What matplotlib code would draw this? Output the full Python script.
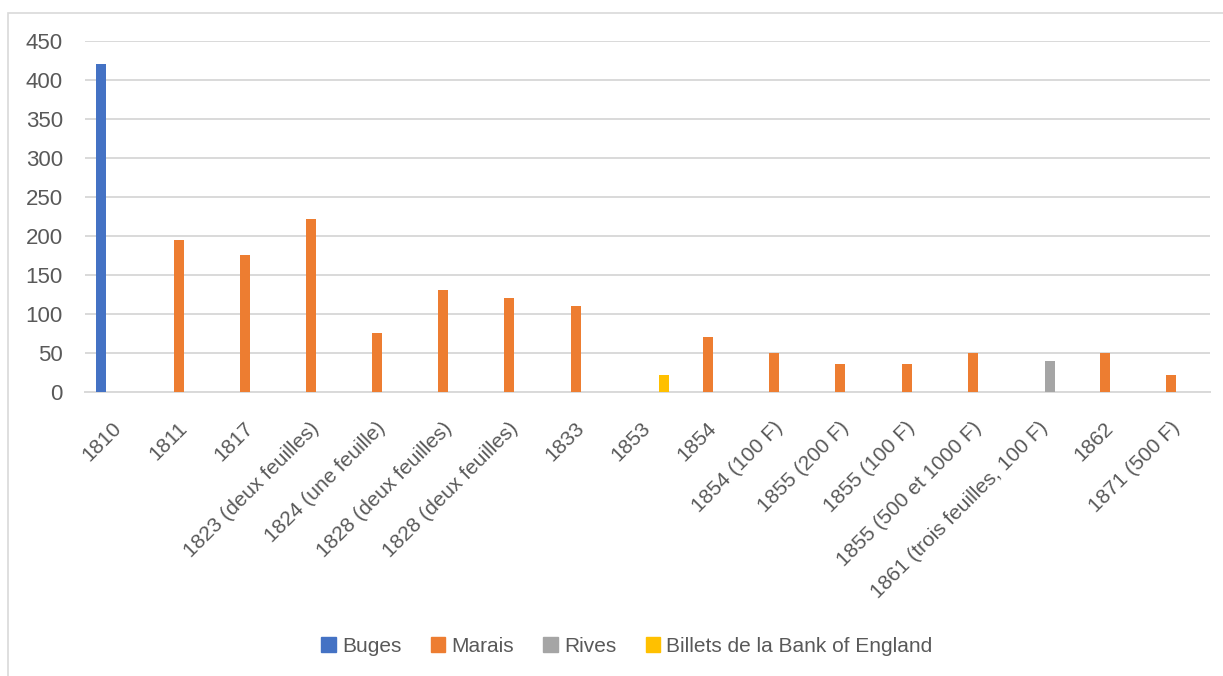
import numpy as np
import matplotlib
matplotlib.use("Agg")
import matplotlib.pyplot as plt
from matplotlib.patches import Rectangle, Patch

plt.rcParams['font.family'] = ['Liberation Sans', 'DejaVu Sans']

categories = ["1810", "1811", "1817", "1823 (deux feuilles)", "1824 (une feuille)",
              "1828 (deux feuilles)", "1828 (deux feuilles)", "1833", "1853", "1854",
              "1854 (100 F)", "1855 (200 F)", "1855 (100 F)", "1855 (500 et 1000 F)",
              "1861 (trois feuilles, 100 F)", "1862", "1871 (500 F)"]
buges = [420, 0, 0, 0, 0, 0, 0, 0, 0, 0, 0, 0, 0, 0, 0, 0, 0]
marais = [0, 195, 175, 222, 75, 130, 120, 110, 0, 70, 50, 35, 35, 50, 0, 50, 22]
rives = [0, 0, 0, 0, 0, 0, 0, 0, 0, 0, 0, 0, 0, 0, 40, 0, 0]
bank_england = [0, 0, 0, 0, 0, 0, 0, 0, 22, 0, 0, 0, 0, 0, 0, 0, 0]

series = ["Buges", "Marais", "Rives", "Billets de la Bank of England"]
colors = ["#4472C4", "#ED7D31", "#A5A5A5", "#FFC000"]
grey_txt = "#595959"

fig = plt.figure(figsize=(12.23, 6.76), dpi=100)
ax = fig.add_axes([85/1223, 1 - 391.7/676, 1125/1223, (391.7 - 40.7)/676])

x = np.arange(len(categories))
step = 0.171
bw = 0.151
for i, (vals, col) in enumerate(zip([buges, marais, rives, bank_england], colors)):
    ax.bar(x + (i - 1.5) * step, vals, width=bw, color=col, linewidth=0, zorder=3)

ax.set_xlim(-0.5, len(categories) - 0.5)
ax.set_ylim(0, 450)
ax.set_yticks(np.arange(0, 451, 50))
ax.yaxis.grid(True, color="#D9D9D9", linewidth=1.4)
ax.set_axisbelow(True)
for s in ["top", "right", "left"]:
    ax.spines[s].set_visible(False)
ax.spines["bottom"].set_color("#D9D9D9")
ax.spines["bottom"].set_linewidth(1.4)

ax.set_xticks(x)
ax.set_xticklabels(categories, rotation=45, ha="right", va="center",
                   rotation_mode="anchor", fontsize=15, color=grey_txt)
ax.tick_params(axis="x", length=0, pad=24)
ax.tick_params(axis="y", length=0, pad=16, labelsize=16, labelcolor=grey_txt)

handles = [Patch(color=c, label=s) for c, s in zip(colors, series)]
fig.legend(handles=handles, loc="center", bbox_to_anchor=(627/1223, 1 - 646/676),
           ncol=4, frameon=False, fontsize=15, labelcolor=grey_txt,
           handlelength=0.7, handleheight=0.7, handletextpad=0.3, columnspacing=1.4)

fig.patches.append(Rectangle((8/1223, -0.1), 1.2, 1 - 12.5/676 + 0.1,
                             transform=fig.transFigure, fill=False,
                             edgecolor="#D9D9D9", linewidth=1.2))

fig.savefig("out.png", dpi=100)
